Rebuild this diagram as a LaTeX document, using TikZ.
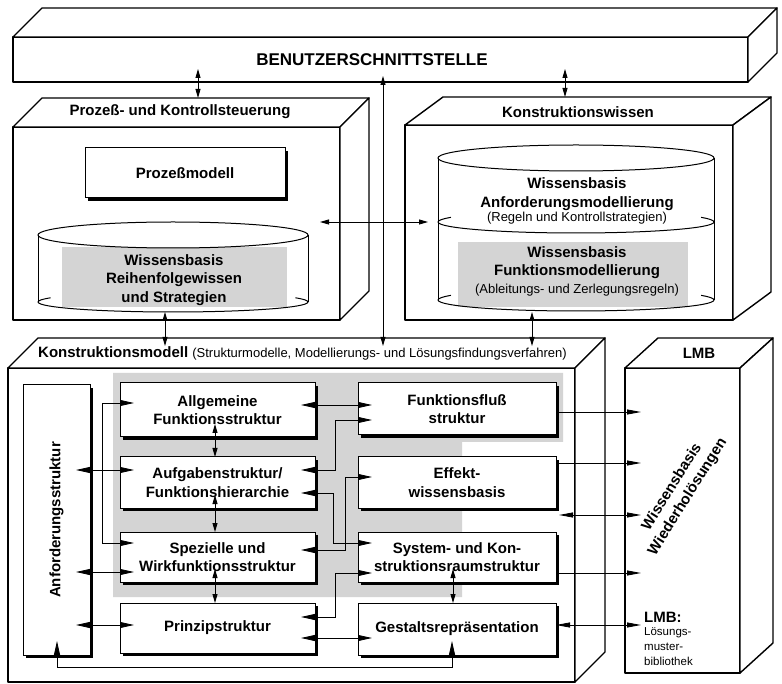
\documentclass[tikz,border=0pt]{standalone}
\usepackage{fontspec}
\setmainfont{Liberation Sans}
\usetikzlibrary{arrows.meta,shadows,calc}
\newcommand\lblfont{\fontsize{15}{18.5}\selectfont\bfseries}
\newcommand\smlfont{\fontsize{13}{15}\selectfont}
\definecolor{shd}{gray}{0.83}
\tikzset{
  tipL/.tip={Triangle[length=14pt,width=6pt]},
  tipS/.tip={Triangle[length=9pt,width=5pt]},
  tipR/.tip={Triangle[length=14pt,width=5pt]},
  face/.style={draw, fill=white, line width=1.4pt, line join=round, inner sep=0pt, outer sep=0pt},
  cyl/.style={line width=1pt},
  lbl/.style={font=\lblfont, align=center},
  ibox/.style={draw, fill=white, line width=1pt, inner sep=0pt, outer sep=0pt, align=center, font=\lblfont,
     drop shadow={shadow xshift=3pt, shadow yshift=-3pt, fill=black, opacity=1}},
  con/.style={line width=0.8pt},
  bi/.style={con, tipL-tipL, shorten <=-14pt, shorten >=-14pt},
  vbi/.style={con, tipS-tipS, shorten <=-13pt},
  tbi/.style={con, tipS-tipS},
  ri/.style={con, -tipR, shorten >=-16pt}
}
\begin{document}
\begin{tikzpicture}[x=1pt,y=-1pt]
\useasboundingbox (0,0) rectangle (782,684);

% ---------- BENUTZERSCHNITTSTELLE ----------
\node[face, minimum width=735pt, minimum height=45pt] (benutzer) at (380.5,59.5) {};
\draw[face] (benutzer.north west) -- ++(29,-29) -- ($(benutzer.north east)+(29,-29)$) -- (benutzer.north east) -- cycle;
\draw[face] (benutzer.north east) -- ++(29,-29) -- ($(benutzer.south east)+(29,-29)$) -- (benutzer.south east) -- cycle;
\node[font=\fontsize{17}{20}\selectfont\bfseries] (tbenutzer) at (372,60) {BENUTZERSCHNITTSTELLE};

% ---------- Prozess- und Kontrollsteuerung ----------
\node[face, minimum width=327pt, minimum height=193pt] (proz) at (176.5,223.5) {};
\draw[face] (proz.north west) -- ++(29,-29) coordinate (prozTL) -- ($(proz.north east)+(29,-29)$) -- (proz.north east) -- cycle;
\draw[face] (proz.north east) -- ++(29,-29) -- ($(proz.south east)+(29,-29)$) -- (proz.south east) -- cycle;
\node[lbl] (tproz) at (180,112) {Prozeß- und Kontrollsteuerung};
\node[ibox, minimum width=200pt, minimum height=50pt] (pmod) at (185,173) {Prozeßmodell};

\fill[shd] (62,247) rectangle (287,307);
\draw[cyl] (38,235) -- (38,302) (308,235) -- (308,302);
\draw[cyl] (173,235) ellipse [x radius=135pt, y radius=13pt];
\draw[cyl] (38,302) arc[start angle=180, end angle=360, x radius=135pt, y radius=10pt];
\draw[cyl] (38,302) arc[start angle=180, end angle=155, x radius=135pt, y radius=10pt];
\draw[cyl] (308,302) arc[start angle=0, end angle=25, x radius=135pt, y radius=10pt];
\node[lbl] (tcylA) at (174,280) {Wissensbasis\\Reihenfolgewissen\\und Strategien};
\coordinate (cylAbot) at (165,312);
\coordinate (cylAr) at (308,222);

% ---------- Konstruktionswissen ----------
\node[face, minimum width=328pt, minimum height=195pt] (kwiss) at (569,222.5) {};
\draw[face] (kwiss.north west) -- ++(38,-28) coordinate (kwissTL) -- ($(kwiss.north east)+(38,-28)$) -- (kwiss.north east) -- cycle;
\draw[face] (kwiss.north east) -- ++(38,-28) -- ($(kwiss.south east)+(38,-28)$) -- (kwiss.south east) -- cycle;
\node[lbl] (tkwiss) at (578,112) {Konstruktionswissen};

\fill[shd] (458,242) rectangle (688,307);
\draw[cyl] (438,158) -- (438,300) (714,158) -- (714,300);
\draw[cyl] (576,158) ellipse [x radius=138pt, y radius=13pt];
\draw[cyl] (438,222) arc[start angle=180, end angle=360, x radius=138pt, y radius=11pt];
\draw[cyl] (438,222) arc[start angle=180, end angle=155, x radius=138pt, y radius=11pt];
\draw[cyl] (714,222) arc[start angle=0, end angle=25, x radius=138pt, y radius=11pt];
\draw[cyl] (438,300) arc[start angle=180, end angle=360, x radius=138pt, y radius=11pt];
\draw[cyl] (438,300) arc[start angle=180, end angle=155, x radius=138pt, y radius=11pt];
\draw[cyl] (714,300) arc[start angle=0, end angle=25, x radius=138pt, y radius=11pt];
\node[lbl] (tcylB) at (577,194) {Wissensbasis\\Anforderungsmodellierung};
\node[font=\smlfont] (tcylBs) at (577,218) {(Regeln und Kontrollstrategien)};
\node[lbl] (tcylC) at (577,262.5) {Wissensbasis\\Funktionsmodellierung};
\node[font=\smlfont] (tcylCs) at (577,290) {(Ableitungs- und Zerlegungsregeln)};
\coordinate (cylCbot) at (532,312);
\coordinate (cylBl) at (438,222);

% ---------- Konstruktionsmodell ----------
\node[face, minimum width=567pt, minimum height=314pt] (kmod) at (291.5,525) {};
\draw[face] (kmod.north west) -- ++(30,-30) coordinate (kmodTL) -- ($(kmod.north east)+(30,-30)$) -- (kmod.north east) -- cycle;
\draw[face] (kmod.north east) -- ++(30,-30) -- ($(kmod.south east)+(30,-30)$) -- (kmod.south east) -- cycle;
\node[anchor=west, inner sep=0pt] (tkmod) at (38,353) {\lblfont Konstruktionsmodell \mdseries\smlfont(Strukturmodelle, Modellierungs- und Lösungsfindungsverfahren)};

% ---------- LMB ----------
\node[face, minimum width=115pt, minimum height=305pt] (lmb) at (682.5,520.5) {};
\draw[face] (lmb.north west) -- ++(33,-30) -- ($(lmb.north east)+(33,-30)$) -- (lmb.north east) -- cycle;
\draw[face] (lmb.north east) -- ++(33,-30) -- ($(lmb.south east)+(33,-30)$) -- (lmb.south east) -- cycle;
\node[lbl] (tlmb) at (699,353) {LMB};
\node[lbl, rotate=58] (twied) at (680,492) {Wissensbasis\\Wiederholösungen};
\node[anchor=west, inner sep=0pt, font=\fontsize{15}{18}\selectfont\bfseries] (tlmbc) at (644,617) {LMB:};
\node[anchor=north west, inner sep=0pt, align=left, font=\fontsize{11.5}{15}\selectfont] (tlmbs) at (644,627) {Lösungs-\\muster-\\bibliothek};

% ---------- inner structure ----------
\fill[shd] (113,373) -- (563,373) -- (563,442) -- (462,442) -- (462,597) -- (113,597) -- cycle;

\node[ibox, minimum width=67pt, minimum height=270pt] (anf) at (56.5,520) {\rotatebox{90}{Anforderungsstruktur}};

\node[ibox, minimum width=195pt, minimum height=54pt] (allg) at (217.5,410) {Allgemeine\\Funktionsstruktur};
\node[ibox, minimum width=195pt, minimum height=51pt] (aufg) at (217.5,482.5) {Aufgabenstruktur/\\Funktionshierarchie};
\node[ibox, minimum width=195pt, minimum height=50pt] (spez) at (217.5,557) {Spezielle und\\Wirkfunktionsstruktur};
\node[ibox, minimum width=195pt, minimum height=50pt] (prinz) at (217.5,628) {Prinzipstruktur};

\node[ibox, minimum width=198pt, minimum height=52pt] (ffl) at (457,409) {Funktionsfluß\\struktur};
\node[ibox, minimum width=198pt, minimum height=51pt] (eff) at (457,482.5) {Effekt-\\wissensbasis};
\node[ibox, minimum width=198pt, minimum height=50pt] (sys) at (457,557) {System- und Kon-\\struktionsraumstruktur};
\node[ibox, minimum width=198pt, minimum height=52pt] (gest) at (457,629) {Gestaltsrepräsentation};

% ---------- connectors: top ----------
\draw[tbi, shorten <=-13pt] (benutzer.south -| 198,0) -- (prozTL -| 198,0);
\draw[tbi, shorten <=-13pt] (benutzer.south -| 565,0) -- (kwissTL -| 565,0);
\draw[tbi, shorten <=-6pt, shorten >=-8pt] (benutzer.south -| 383,0) -- (kmodTL -| 383,0);
\draw[tbi, shorten >=-8pt] (cylAbot) -- (kmodTL -| 165,0);
\draw[tbi, shorten >=-8pt] (cylCbot) -- (kmodTL -| 532,0);
\draw[tbi, shorten <=12pt, shorten >=10pt] (cylAr) -- (cylBl);

% ---------- connectors: Konstruktionsmodell ----------
\draw[bi] (anf.east |- 0,470) -- (aufg.west |- 0,470);
\draw[bi] (anf.east |- 0,572) -- (spez.west |- 0,572);
\draw[bi] (anf.east |- 0,625) -- (prinz.west |- 0,625);
\draw[bi] (allg.west |- 0,403) -- (102,403) -- (102,543) -- (spez.west |- 0,543);
\draw[bi] (gest.south -| 452,0) -- (452,667) -- (57,667) -- (anf.south -| 57,0);

\draw[vbi] (allg.south -| 215,0) -- (aufg.north -| 215,0);
\draw[vbi] (aufg.south -| 215,0) -- (spez.north -| 215,0);
\draw[vbi] (spez.south -| 215,0) -- (prinz.north -| 215,0);
\draw[vbi] (sys.south -| 453,0) -- (gest.north -| 453,0);

\draw[bi] (allg.east |- 0,405) -- (ffl.west |- 0,405);
\draw[bi] (aufg.east |- 0,470) -- (335,470) -- (335,420) -- (ffl.west |- 0,420);
\draw[bi] (aufg.east |- 0,493) -- (333,493) -- (333,543) -- (sys.west |- 0,543);
\draw[bi] (eff.west |- 0,477) -- (345,477) -- (345,550) -- (spez.east |- 0,550);
\draw[bi] (sys.west |- 0,573) -- (335,573) -- (335,617) -- (prinz.east |- 0,617);
\draw[bi] (prinz.east |- 0,638) -- (gest.west |- 0,638);

% ---------- connectors: to LMB ----------
\draw[ri] (ffl.east |- 0,412) -- (lmb.west |- 0,412);
\draw[ri] (eff.east |- 0,463) -- (lmb.west |- 0,463);
\draw[con, tipR-tipR, shorten <=-16pt, shorten >=-16pt] (kmod.east |- 0,515) -- (lmb.west |- 0,515);
\draw[ri] (sys.east |- 0,573) -- (lmb.west |- 0,573);
\draw[con, tipR-tipR, shorten >=-16pt] (gest.east |- 0,625) -- (lmb.west |- 0,625);
\end{tikzpicture}
\end{document}
